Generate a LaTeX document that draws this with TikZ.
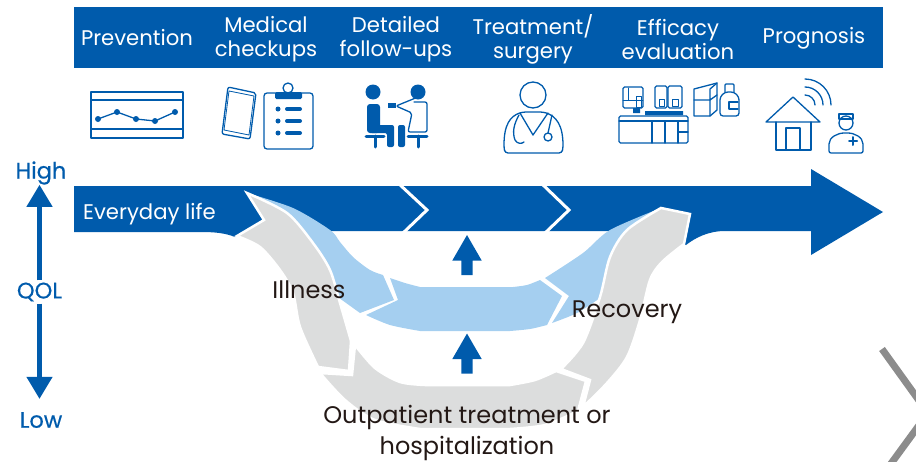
\documentclass[tikz,border=0pt]{standalone}
\usepackage{fontspec}
\setmainfont{Poppins}
\usepackage{tikz}
\usetikzlibrary{arrows.meta,shapes.arrows}
\definecolor{qolblue}{HTML}{005BAC}
\definecolor{paleblue}{HTML}{A5CFF0}
\definecolor{palegray}{HTML}{DCDDDD}
\definecolor{inktext}{HTML}{231815}
\tikzset{
    headtext/.style={text=white, align=center, font=\fontsize{21.2}{24}\selectfont},
    qoltext/.style={text=qolblue, inner sep=2pt, font=\fontsize{22.5}{24}\selectfont\addfontfeature{FakeBold=0.4}},
    phasetext/.style={text=inktext, align=center, font=\fontsize{24}{31}\selectfont},
    qolarrow/.style={draw=qolblue, line width=4.5pt, -{Triangle[length=22pt,width=25pt]}},
    upblock/.style={single arrow, fill=qolblue, rotate=90, inner sep=5.5pt, minimum width=29pt,
                    minimum height=40pt, single arrow head extend=9pt, single arrow tip angle=60},
    bluepiece/.style={fill=paleblue},
    graypiece/.style={fill=palegray, draw=white, line width=2.5pt, line join=miter},
    whitecut/.style={draw=white, line width=3pt},
    iconline/.style={draw=qolblue, line width=1.3pt, line join=round, line cap=round},
    iconfill/.style={fill=qolblue},
}

\begin{document}
\begin{tikzpicture}[x=1pt,y=-1pt]
    \useasboundingbox (0,0) rectangle (916,461);

    % Header bar
    \fill[qolblue] (74,7) rectangle (883,68);
    \node[headtext] (prevention) at (137,38) {Prevention};
    \node[headtext] (checkups) at (266,39.5) {Medical\\checkups};
    \node[headtext] (followups) at (396,39.5) {Detailed\\follow-ups};
    \node[headtext] (treatment) at (533,39.5) {Treatment/\\surgery};
    \node[headtext] (efficacy) at (678,39.5) {Efficacy\\evaluation};
    \node[headtext] (prognosis) at (814,38) {Prognosis};

    % Prevention icon
    \draw[iconline] (91,92) rectangle (183,138);
    \draw[iconline] (91,100) -- (183,100) (91,129) -- (183,129);
    \draw[iconline] (98,119) -- (117,112) -- (136,119) -- (155,121) -- (175,112);
    \foreach \x/\y in {98/119, 117/112, 136/119, 155/121, 175/112} {
        \fill[iconfill] (\x,\y) circle (3);
    }

    % Checkups icon
    \draw[iconline, rounded corners=2pt] (228,87) -- (256,93) -- (250,139) -- (222,134) -- cycle;
    \draw[iconline, line width=0.8pt] (229,91) -- (254,96) -- (249,135) -- (224,130) -- cycle;
    \draw[iconline, rounded corners=3pt] (264,93) rectangle (313,149);
    \draw[iconline] (288,88) circle (5);
    \fill[iconfill, rounded corners=1.5pt] (275,92) rectangle (302,99);
    \foreach \y in {109, 121, 133} {
        \fill[iconfill] (278,\y) circle (2.5);
        \draw[iconline, line width=4pt] (287,\y) -- (300,\y);
    }

    % Follow-up icon
    \fill[iconfill] (373,92) circle (7.5) (418,92) circle (7.5);
    \fill[iconfill, rounded corners=3pt] (367,104) rectangle (380,133);
    \fill[iconfill, rounded corners=2pt] (370,125) -- (394,125) -- (394,147) -- (387,147) -- (387,133) -- (370,133) -- cycle;
    \fill[iconfill, rounded corners=2pt] (405,125) -- (398,125) -- (398,147) -- (405,147) -- cycle;
    \draw[iconline, line width=3pt] (366,136) -- (384,136) (375,136) -- (375,147);
    \draw[iconline, line width=3pt] (408,136) -- (427,136) (418,136) -- (418,147);
    \draw[iconline, rounded corners=2pt] (414,102) -- (427,102) -- (427,132) -- (408,132) -- (412,113) -- (396,106) -- (418,97);
    \fill[iconfill] (388,103) rectangle (396,108);

    % Treatment icon
    \draw[iconline] (533,95) circle (13);
    \draw[iconline, rounded corners=3pt] (505,153) -- (504,148) .. controls (504,125) and (510,116) .. (523,112)
        -- (543,112) .. controls (556,116) and (563,125) .. (563,148) -- (562,153) -- cycle;
    \draw[iconline] (520,113) -- (533,135) -- (548,113);
    \draw[iconline] (519,115) .. controls (514,124) and (512,132) .. (515,140) .. controls (517,144) and (522,144) .. (524,142);
    \draw[iconline] (552,115) -- (548,133);
    \draw[iconline] (548,137) circle (4);

    % Efficacy icon
    \draw[iconline, rounded corners=1.5pt] (619,116) rectangle (688,143);
    \draw[iconline] (619,121) -- (688,121) (652,121) -- (652,143) (665,121) -- (665,143) (678,121) -- (678,143) (678,132) -- (688,132);
    \draw[iconline, rounded corners=1.5pt] (623,87) rectangle (643,108);
    \draw[iconline, rounded corners=1.5pt] (655,86) rectangle (667,108);
    \draw[iconline, rounded corners=1.5pt] (668,86) rectangle (682,108);
    \draw[iconline, line width=0.9pt] (628,88) -- (628,100) (623,100) -- (643,100) (636,96) rectangle (641,107);
    \draw[iconline, line width=0.9pt] (659,99) rectangle (664,106) (672,99) rectangle (678,106);
    \fill[iconfill] (633,108) rectangle (640,113) (645,111) rectangle (683,115);
    \draw[iconline] (694,89) -- (717,83) -- (717,110) -- (710,116) -- (694,116) -- cycle;
    \draw[iconline] (710,89) -- (710,116) (694,100) -- (710,100) -- (717,95) (710,89) -- (717,83);
    \draw[iconline, rounded corners=3pt] (725,92) -- (720,97) -- (720,116) -- (739,116) -- (739,97) -- (734,92) -- cycle;
    \draw[iconline, rounded corners=1pt] (725,92) -- (725,84) -- (734,84) -- (734,92);
    \draw[iconline] (738,102) -- (729,102) -- (729,109) -- (738,109);

    % Prognosis icon
    \draw[iconline] (766,122) -- (793,97) -- (820,122) -- cycle;
    \draw[iconline] (776,122) -- (776,150) -- (811,150) -- (811,122);
    \draw[iconline] (786,150) -- (786,128) -- (800,128) -- (800,150);
    \draw[iconline] (805,79) arc[start angle=-90, end angle=0, radius=26];
    \draw[iconline] (805,87) arc[start angle=-90, end angle=0, radius=18];
    \draw[iconline] (805,95) arc[start angle=-90, end angle=0, radius=10];
    \draw[iconline] (846,123) circle (7);
    \draw[iconline] (839,114) -- (853,114) -- (853,119) -- (839,119) -- cycle;
    \draw[iconline, rounded corners=2pt] (829,153) -- (829,146) .. controls (829,137) and (838,133) .. (846,133)
        .. controls (854,133) and (863,137) .. (863,146) -- (863,153) -- cycle;
    \draw[iconline, line width=2pt] (849,141) -- (857,141) (853,137) -- (853,145);

    % Everyday life band
    \fill[qolblue] (74,186) -- (811,186) -- (811,169) -- (883,212) -- (811,255) -- (811,231) -- (725,231)
        .. controls (708,231) and (695,238) .. (686,245) -- (650,231) -- (262,231) -- (235,237)
        .. controls (225,233) and (215,232) .. (200,232) -- (74,232) -- cycle;
    \draw[whitecut] (398,183) -- (427,210) -- (402,234);
    \draw[whitecut] (541,183) -- (569,210) -- (544,234);
    \node[headtext, anchor=west, inner sep=0pt] (everyday) at (83,214.5) {Everyday life};

    % Pale blue course
    \fill[bluepiece] plot[smooth] coordinates {(247,193) (293,208) (330,230) (340,242) (353,257) (370,270) (383,275)}
        -- (394,300) -- (360,313) -- (335,295) -- cycle;
    \fill[bluepiece] plot[smooth] coordinates {(390,278) (405,283) (420,287)} -- (513,287)
        -- plot[smooth] coordinates {(513,287) (527,285) (540,280)}
        -- (562,296) -- (547,325) -- plot[smooth] coordinates {(547,325) (530,329) (510,331)} -- (420,331)
        -- plot[smooth] coordinates {(420,331) (390,325) (366,315)}
        -- (398,300) -- cycle;
    \fill[bluepiece] plot[smooth] coordinates {(545,278) (583,253) (610,230) (661,208)}
        -- plot[smooth] coordinates {(600,298) (577,313) (552,323)} -- (569,296) -- cycle;

    % Gray course
    \path[graypiece] plot[smooth] coordinates {(247,193) (287,213) (313,243) (330,270) (340,303) (351,341)}
        -- (349,371) -- (318,367)
        -- plot[smooth] coordinates {(318,367) (300,327) (293,293) (280,270) (260,247) (237,236)}
        -- (264,220) -- cycle;
    \path[graypiece] plot[smooth] coordinates {(355,345) (375,368) (400,382) (425,385)} -- (510,385)
        -- plot[smooth] coordinates {(510,385) (535,380) (556,371)}
        -- (586,381) -- (578,411)
        -- plot[smooth] coordinates {(578,411) (545,425) (510,429)} -- (420,429)
        -- plot[smooth] coordinates {(420,429) (375,420) (345,400) (320,373)}
        -- (352,375) -- cycle;
    \path[graypiece] plot[smooth] coordinates {(583,407) (607,383) (627,357) (640,320) (650,280) (662,262) (684,244)}
        -- (690,214) -- (661,208)
        -- plot[smooth] coordinates {(661,208) (627,230) (610,257) (600,297) (583,343) (561,369)}
        -- (590,380) -- cycle;

    % Rise in QOL
    \node[upblock] (riseA) at (467,260) {};
    \node[upblock] (riseB) at (467,358.5) {};

    % Phase labels
    \node[phasetext] (illness) at (309,290) {Illness};
    \node[phasetext] (recovery) at (627,312) {Recovery};
    \node[phasetext] (outpatient) at (467,432.5) {Outpatient treatment or\\hospitalization};

    % QOL scale
    \node[qoltext] (high) at (41,173) {High};
    \node[qoltext] (qol) at (39.5,292) {QOL};
    \node[qoltext] (low) at (41,420) {Low};
    \draw[qolarrow, shorten >=-2pt] (qol.north) -- (qol |- high.south);
    \draw[qolarrow, shorten >=11pt] (qol.south) -- (qol |- low.north);

    % Corner mark
    \draw[draw=black!45, line width=7pt] (882,349) -- (928,413) -- (890,465);
\end{tikzpicture}
\end{document}
